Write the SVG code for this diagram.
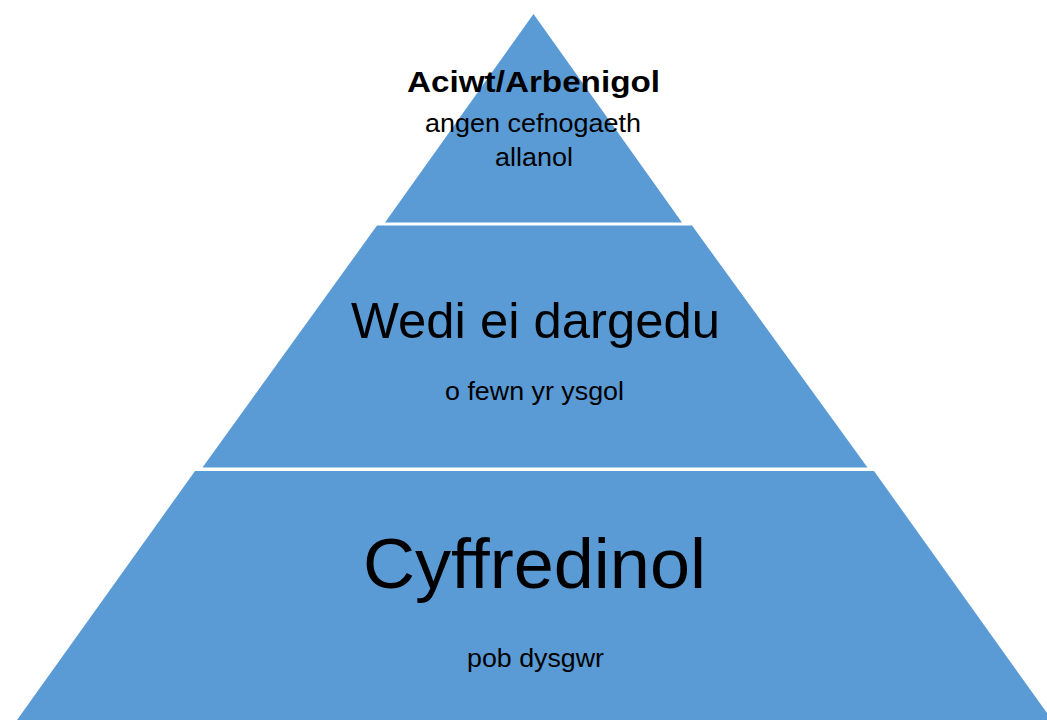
<svg xmlns="http://www.w3.org/2000/svg" width="1047" height="720" viewBox="0 0 1047 720">
<style>
.tier{fill:#5B9BD5;stroke:none}
text{font-family:"Liberation Sans",Arial,sans-serif;fill:#000;text-anchor:middle}
.b{font-weight:bold}
</style>
<rect width="1047" height="720" fill="#fff"/>
<g id="tier-top">
<polygon class="tier" points="533.5,14 682,222.5 385,222.5"/>
<text class="b" x="533.5" y="92" font-size="30" textLength="253" lengthAdjust="spacingAndGlyphs">Aciwt/Arbenigol</text>
<text x="533" y="132" font-size="26.5" textLength="216" lengthAdjust="spacingAndGlyphs">angen cefnogaeth</text>
<text x="534" y="166" font-size="26.5" textLength="78" lengthAdjust="spacingAndGlyphs">allanol</text>
</g>
<g id="tier-middle">
<polygon class="tier" points="377,225.5 692,225.5 867.5,467.5 202.5,467.5"/>
<text x="535.5" y="338" font-size="50" textLength="369" lengthAdjust="spacingAndGlyphs">Wedi ei dargedu</text>
<text x="534.5" y="400" font-size="26.5" textLength="179" lengthAdjust="spacingAndGlyphs">o fewn yr ysgol</text>
</g>
<g id="tier-bottom">
<polygon class="tier" points="195,471 874,471 1052,720 17,720"/>
<text x="534.5" y="588" font-size="70" textLength="343" lengthAdjust="spacingAndGlyphs">Cyffredinol</text>
<text x="535.5" y="667" font-size="26.5" textLength="137" lengthAdjust="spacingAndGlyphs">pob dysgwr</text>
</g>
<g id="connectors"></g>
</svg>
